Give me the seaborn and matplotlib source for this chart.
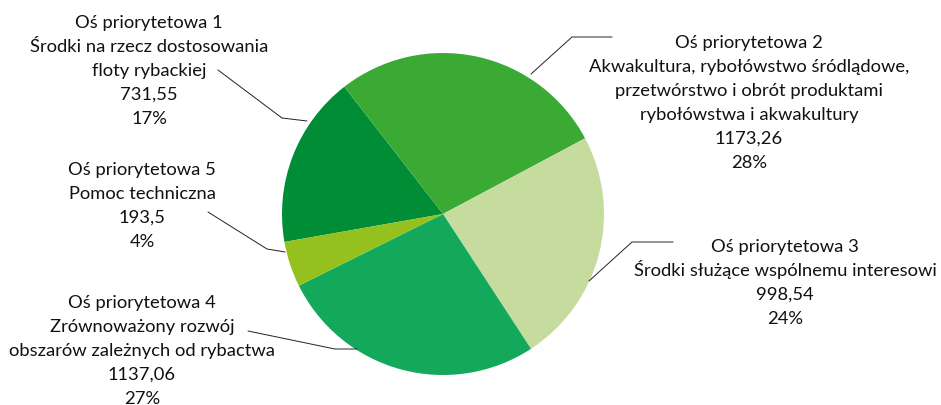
import matplotlib
matplotlib.use("Agg")
import matplotlib.pyplot as plt
import seaborn as sns

# data
axis_names = ["Oś priorytetowa 1", "Oś priorytetowa 2", "Oś priorytetowa 3",
              "Oś priorytetowa 4", "Oś priorytetowa 5"]
descriptions = [
    ["Środki na rzecz dostosowania", "floty rybackiej"],
    ["Akwakultura, rybołówstwo śródlądowe,", "przetwórstwo i obrót produktami",
     "rybołówstwa i akwakultury"],
    ["Środki służące wspólnemu interesowi"],
    ["Zrównoważony rozwój", "obszarów zależnych od rybactwa"],
    ["Pomoc techniczna"],
]
amounts = [731.55, 1173.26, 998.54, 1137.06, 193.5]
percents = [17, 28, 24, 27, 4]

colors = ["#008d36", "#3aaa35", "#c6dc9e", "#13a85a", "#95c11f"]

W, H = 941, 406

# label placement (image pixels: text centre x, first baseline y, leader polyline)
label_pos = [(149, 28), (749, 48), (785, 252), (142, 308), (142, 175)]
line_step = 24
leaders = [
    [(218, 71), (282, 119), (307, 122)],
    [(531, 75), (572, 38), (612, 38)],
    [(589, 282), (632, 243), (673, 243)],
    [(248, 332), (335, 350), (357, 350)],
    [(208, 213), (267, 250), (285, 253)],
]

sns.set_theme(style="white")
plt.rcParams["font.family"] = ["Lato", "DejaVu Sans"]

fig = plt.figure(figsize=(W / 100, H / 100), dpi=100)
ax = fig.add_axes([0, 0, 1, 1])

ax.pie(amounts, colors=colors, startangle=190, counterclock=False,
       center=(443, H - 215), radius=161, frame=True,
       wedgeprops=dict(linewidth=0))

for i in range(len(amounts)):
    value_txt = f"{amounts[i]:g}".replace(".", ",")
    lines = [axis_names[i]] + descriptions[i] + [value_txt, f"{percents[i]}%"]
    x, y0 = label_pos[i]
    for k, line in enumerate(lines):
        ax.text(x, H - (y0 + k * line_step), line, ha="center", va="baseline",
                fontsize=13.2, color="#111111")
    xs = [p[0] for p in leaders[i]]
    ys = [H - p[1] for p in leaders[i]]
    ax.plot(xs, ys, color="#222222", linewidth=0.7)

ax.set_xlim(0, W)
ax.set_ylim(0, H)
ax.set_aspect("equal")
ax.axis("off")

fig.savefig("out.png", dpi=100, facecolor="white")
